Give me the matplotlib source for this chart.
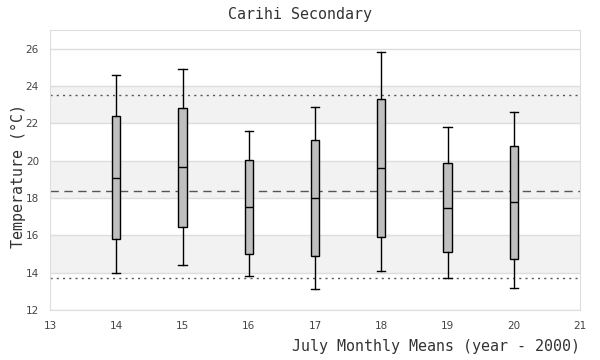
import matplotlib
matplotlib.use("Agg")
import matplotlib.pyplot as plt

# July monthly mean temperatures, years since 2000
years = [14, 15, 16, 17, 18, 19, 20]
whisker_low = [13.98, 14.41, 13.82, 13.13, 14.09, 13.70, 13.16]
q1 = [15.80, 16.45, 15.00, 14.88, 15.90, 15.10, 14.75]
median = [19.08, 19.67, 17.53, 17.98, 19.60, 17.46, 17.78]
q3 = [22.40, 22.84, 20.05, 21.10, 23.32, 19.87, 20.80]
whisker_high = [24.60, 24.93, 21.60, 22.88, 25.84, 21.80, 22.59]

overall_mean = 18.37
upper_ref = 23.52
lower_ref = 13.70

mono = "DejaVu Sans Mono"

fig = plt.figure(figsize=(6, 3.6), dpi=100)
ax = fig.add_axes([50 / 600, 50 / 360, 530 / 600, 280 / 360])

# alternating bands
for lo in [14, 18, 22]:
    ax.axhspan(lo, lo + 2, color="#f2f2f2", zorder=0, lw=0)
for y in range(12, 27, 2):
    ax.axhline(y, color="#dddddd", lw=1, zorder=0.5)

stats = []
for i in range(len(years)):
    stats.append(dict(whislo=whisker_low[i], q1=q1[i], med=median[i],
                      q3=q3[i], whishi=whisker_high[i]))

ax.bxp(stats, positions=years, widths=0.125, showfliers=False, patch_artist=True,
       boxprops=dict(facecolor="#bfbfbf", edgecolor="black", lw=1),
       medianprops=dict(color="black", lw=1),
       whiskerprops=dict(color="black", lw=1),
       capprops=dict(color="black", lw=1), capwidths=0.125, zorder=3)

ax.axhline(overall_mean, color="#555555", lw=1, ls=(0, (6, 4)), zorder=2)
ax.axhline(upper_ref, color="#555555", lw=1, ls=(0, (1.5, 3)), zorder=2)
ax.axhline(lower_ref, color="#555555", lw=1, ls=(0, (1.5, 3)), zorder=2)

ax.set_xlim(13, 21)
ax.set_ylim(12, 27)
ax.set_xticks(range(13, 22))
ax.set_xticklabels([str(v) for v in range(13, 22)])
ax.set_yticks(range(12, 27, 2))
ax.tick_params(length=0, labelsize=7.5, labelcolor="#444444", pad=8)

for s in ax.spines.values():
    s.set_color("#dddddd")

fig.text(0.5, 1 - 14 / 360, "Carihi Secondary", ha="center", va="center",
         family=mono, fontsize=10.8, color="#333333")
fig.text(580 / 600, 1 - 347 / 360, "July Monthly Means (year - 2000)", ha="right",
         va="center", family=mono, fontsize=10.8, color="#333333")
fig.text(18 / 600, 1 - 176 / 360, "Temperature (°C)", ha="center", va="center",
         rotation=90, family=mono, fontsize=10.8, color="#333333")

fig.savefig("out.png", dpi=100)
